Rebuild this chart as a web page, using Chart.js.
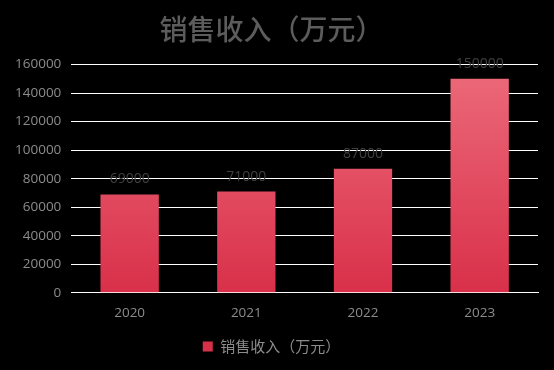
<!DOCTYPE html>
<html lang="zh">
<head>
    <meta charset="UTF-8">
    <title>销售收入（万元）</title>
    <style>
        body {
            margin: 0;
            background-color: #000000;
        }
        #chart {
            display: block;
        }
    </style>
</head>
<body>
    <canvas id="chart" width="554" height="370"></canvas>

    <script src="https://cdn.jsdelivr.net/npm/chart.js"></script>
    <script>
        const years = ['2020', '2021', '2022', '2023'];
        const revenue = [69000, 71000, 87000, 150000];
        const yTicks = [0, 20000, 40000, 60000, 80000, 100000, 120000, 140000, 160000];
        const seriesName = '销售收入（万元）';

        // draws the value above each bar
        const valueLabels = {
            id: 'valueLabels',
            afterDatasetsDraw(chart) {
                const ctx = chart.ctx;
                const meta = chart.getDatasetMeta(0);
                ctx.save();
                ctx.fillStyle = '#404040';
                ctx.font = '14px "Open Sans", sans-serif';
                ctx.textAlign = 'center';
                ctx.textBaseline = 'bottom';
                meta.data.forEach((bar, i) => {
                    ctx.fillText(revenue[i], bar.x, bar.y - 8);
                });
                ctx.restore();
            }
        };

        function barGradient(context) {
            const area = context.chart.chartArea;
            if (!area) return '#e24a60';
            const g = context.chart.ctx.createLinearGradient(0, area.top, 0, area.bottom);
            g.addColorStop(0, '#ec6b7b');
            g.addColorStop(1, '#d9304a');
            return g;
        }

        new Chart(document.getElementById('chart'), {
            type: 'bar',
            data: {
                labels: years,
                datasets: [{
                    label: seriesName,
                    data: revenue,
                    backgroundColor: barGradient,
                    barPercentage: 0.5,
                    categoryPercentage: 1.0
                }]
            },
            options: {
                responsive: false,
                animation: false,
                layout: {
                    padding: { left: 5, right: 16, top: 0, bottom: 6 }
                },
                plugins: {
                    title: {
                        display: true,
                        text: seriesName,
                        color: '#5c5c5c',
                        font: { family: '"Noto Sans CJK SC"', size: 28, weight: '500' },
                        padding: { top: 13, bottom: 18 }
                    },
                    legend: {
                        position: 'bottom',
                        labels: {
                            color: '#8c8c8c',
                            font: { family: '"Noto Sans CJK SC"', size: 15 },
                            boxWidth: 10,
                            boxHeight: 10,
                            padding: 14
                        }
                    },
                    tooltip: { enabled: false }
                },
                scales: {
                    x: {
                        grid: { display: false },
                        border: { color: '#ffffff' },
                        ticks: {
                            color: '#8c8c8c',
                            font: { family: '"Open Sans", sans-serif', size: 13.5 },
                            padding: 4
                        }
                    },
                    y: {
                        min: 0,
                        max: 160000,
                        afterBuildTicks: axis => {
                            axis.ticks = yTicks.map(v => ({ value: v }));
                        },
                        ticks: {
                            color: '#8c8c8c',
                            font: { family: '"Open Sans", sans-serif', size: 13.5 },
                            padding: 10,
                            callback: v => String(v)
                        },
                        grid: { color: '#ffffff', drawTicks: false },
                        border: { display: false }
                    }
                }
            },
            plugins: [valueLabels]
        });
    </script>
</body>
</html>
